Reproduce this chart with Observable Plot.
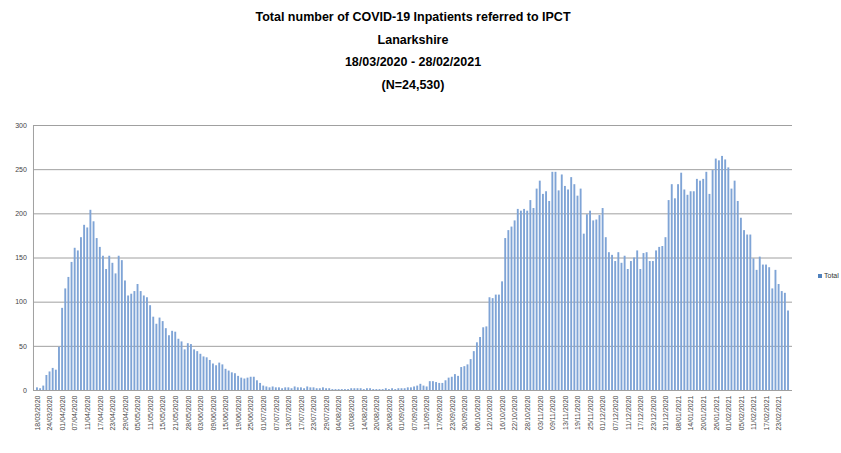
<!DOCTYPE html>
<html>
<head>
<meta charset="utf-8">
<script src="https://cdn.jsdelivr.net/npm/d3@7"></script>
<script src="https://cdn.jsdelivr.net/npm/@observablehq/plot@0.6"></script>
<style>
  body { margin: 0; background: #fff; width: 841px; height: 453px; overflow: hidden; position: relative; font-family: "Liberation Sans", Arial, sans-serif; }
  #title { height: 100px; box-sizing: border-box; padding-top: 6px; padding-right: 15px; text-align: center;
           font-family: "Liberation Sans Narrow", "Liberation Sans", Arial, sans-serif; font-weight: bold; font-size: 12.5px; line-height: 22.5px; color: #000; }
  #legend { position: absolute; left: 818px; top: 272px; font-size: 7px; color: #333; display: flex; align-items: center; gap: 2px; }
  #legend span.sw { display: inline-block; width: 4px; height: 4px; background: #4f81bd; }
</style>
</head>
<body>
<div id="title">
  <div>Total number of COVID-19 Inpatients referred to IPCT</div>
  <div>Lanarkshire</div>
  <div>18/03/2020 - 28/02/2021</div>
  <div>(N=24,530)</div>
</div>
<div id="chart"></div>
<div id="legend"><span class="sw"></span><span>Total</span></div>
<script>
// Category tick labels (one every 4th bar)
const tickLabels = [
  "18/03/2020","24/03/2020","01/04/2020","07/04/2020","11/04/2020","17/04/2020","23/04/2020","29/04/2020",
  "05/05/2020","11/05/2020","15/05/2020","21/05/2020","28/05/2020","03/06/2020","09/06/2020","15/06/2020",
  "19/06/2020","25/06/2020","01/07/2020","07/07/2020","13/07/2020","17/07/2020","23/07/2020","29/07/2020",
  "04/08/2020","10/08/2020","14/08/2020","20/08/2020","26/08/2020","01/09/2020","07/09/2020","11/09/2020",
  "17/09/2020","23/09/2020","30/09/2020","06/10/2020","12/10/2020","16/10/2020","22/10/2020","28/10/2020",
  "03/11/2020","09/11/2020","13/11/2020","19/11/2020","25/11/2020","01/12/2020","07/12/2020","11/12/2020",
  "17/12/2020","23/12/2020","31/12/2020","08/01/2021","14/01/2021","20/01/2021","26/01/2021","01/02/2021",
  "05/02/2021","11/02/2021","17/02/2021","23/02/2021"
];
const barsPerLabel = 4;

// Series "Total"
const totals = [
  3,2,5,17,21,25,23,49,93,115, 128,145,161,158,173,187,184,204,191,172,
  162,152,137,152,144,132,152,147,124,107, 109,112,120,112,107,105,96,83,75,82,
  78,70,62,67,66,58,55,46,53,52, 46,44,41,38,37,34,30,28,31,29,
  24,22,20,19,16,14,13,14,15,15, 11,8,5,4,3,4,3,3,2,3,
  3,2,4,3,3,2,4,3,3,2, 2,3,2,2,1,1,1,1,1,1,
  2,2,2,2,1,2,2,1,1,1, 1,2,1,2,1,2,2,2,3,3,
  4,5,7,5,4,10,10,9,8,8, 11,14,15,18,16,26,27,29,35,44,
  54,60,71,72,105,104,108,108,123,172, 181,185,192,205,203,205,203,215,206,228,
  237,222,225,214,247,247,226,244,231,227, 241,233,220,228,177,199,203,192,193,198,
  206,173,156,153,146,156,144,152,137,146, 150,158,137,155,156,146,146,158,162,163,
  173,215,233,217,233,246,227,221,225,225, 239,237,239,247,222,249,262,260,265,261,
  252,228,237,214,195,181,176,176,149,136, 151,142,142,139,115,136,120,112,110,90
];
const yTicks = [0, 50, 100, 150, 200, 250, 300];

const data = totals.map((v, i) => ({i, v}));
const tickIdx = tickLabels.map((_, k) => k * barsPerLabel);

const chart = Plot.plot({
  width: 841,
  height: 353,
  marginLeft: 35.4,
  marginRight: 51.4,
  marginTop: 25,
  marginBottom: 63,
  style: {background: "#fff", fontFamily: "'Liberation Sans', Arial, sans-serif"},
  x: {type: "band", domain: data.map(d => d.i), paddingInner: 0.4, paddingOuter: 0.2, axis: null},
  y: {domain: [0, 300], axis: null},
  marks: [
    Plot.ruleY(yTicks, {stroke: "#a0a0a0", strokeWidth: 1, insetLeft: -2.4, insetRight: -2.4}),
    Plot.ruleX([0], {x: d => d, y1: 0, y2: 300, dx: -4, stroke: "#a0a0a0"}),
    Plot.barY(data, {x: "i", y: "v", fill: "#7fa4d6"}),
    Plot.axisX({ticks: tickIdx, tickFormat: i => tickLabels[i / barsPerLabel], tickRotate: -90,
                tickSize: 0, tickPadding: 5, fontSize: 7, fill: "#444", label: null}),
    Plot.axisY({ticks: yTicks, tickSize: 0, tickPadding: 9, fontSize: 7, fill: "#444", label: null})
  ]
});
document.getElementById("chart").appendChild(chart);
</script>
</body>
</html>
